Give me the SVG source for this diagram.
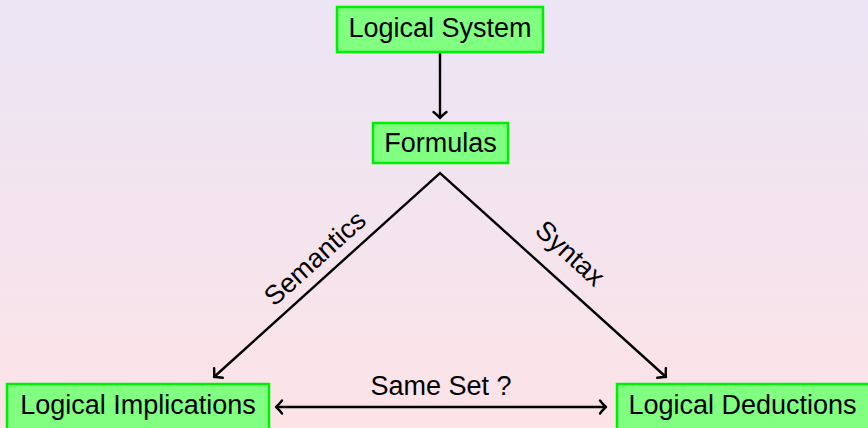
<svg xmlns="http://www.w3.org/2000/svg" width="868" height="428" viewBox="0 0 868 428">
<defs>
<linearGradient id="bg" x1="0" y1="0" x2="0" y2="1">
<stop offset="0" stop-color="#ebe5f5"/>
<stop offset="1" stop-color="#fce3e7"/>
</linearGradient>
<marker id="ah" markerUnits="userSpaceOnUse" markerWidth="20" markerHeight="20" viewBox="-10 -10 20 20" refX="0" refY="0" orient="auto-start-reverse">
<path d="M-6,-6.5 Q-2,-1.5 0,0 Q-2,1.5 -6,6.5" fill="none" stroke="#000" stroke-width="2.4" stroke-linecap="round" stroke-linejoin="round"/>
</marker>
<style>
.box{fill:#80ff80;stroke:#00ee00;stroke-width:2.5}
.t{font-family:"Liberation Sans",Arial,sans-serif;font-size:27px;fill:#000}
.c{fill:none;stroke:#000;stroke-width:2.4}
</style>
</defs>
<rect x="0" y="0" width="868" height="428" fill="url(#bg)"/>
<g id="connectors">
<line class="c" x1="440" y1="53" x2="440" y2="118" marker-end="url(#ah)"/>
<polyline class="c" points="214,377 440,173 666,377" marker-start="url(#ah)" marker-end="url(#ah)"/>
<line class="c" x1="276" y1="407" x2="606" y2="407" marker-start="url(#ah)" marker-end="url(#ah)"/>
<text class="t" text-anchor="middle" transform="translate(321,265) rotate(-42.2)">Semantics</text>
<text class="t" text-anchor="middle" transform="translate(564,260) rotate(42.2)">Syntax</text>
<text class="t" x="441" y="395" text-anchor="middle">Same Set ?</text>
</g>
<g id="logical-system">
<rect class="box" x="337" y="7" width="206" height="45"/>
<text class="t" x="440" y="37" text-anchor="middle">Logical System</text>
</g>
<g id="formulas">
<rect class="box" x="373" y="123" width="135" height="40"/>
<text class="t" x="440.5" y="152" text-anchor="middle">Formulas</text>
</g>
<g id="logical-implications">
<rect class="box" x="7" y="384" width="262" height="46"/>
<text class="t" x="138" y="414" text-anchor="middle">Logical Implications</text>
</g>
<g id="logical-deductions">
<rect class="box" x="617" y="384" width="262" height="46"/>
<text class="t" x="742.5" y="414" text-anchor="middle">Logical Deductions</text>
</g>
</svg>
